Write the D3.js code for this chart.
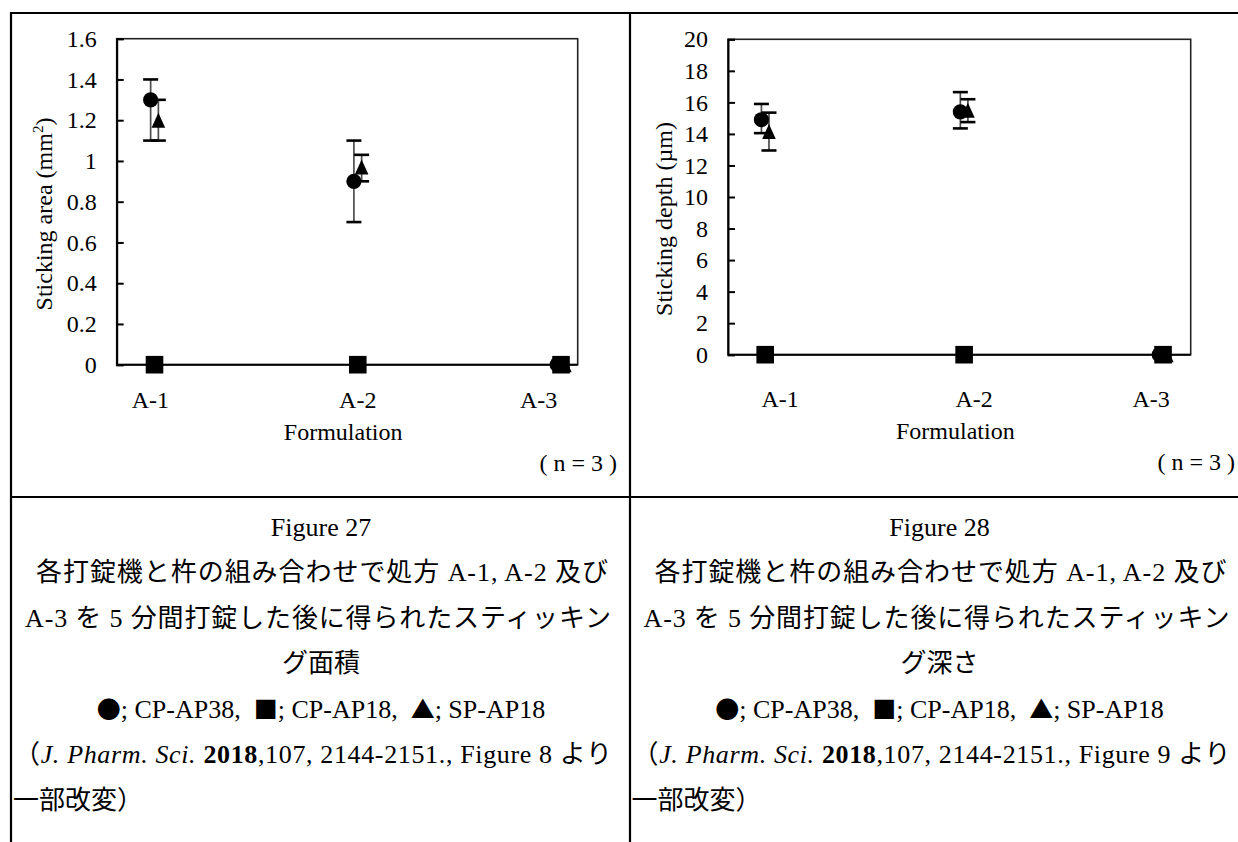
<!DOCTYPE html>
<html>
<head>
<meta charset="utf-8">
<script src="https://cdn.jsdelivr.net/npm/d3@7"></script>
<style>
  html, body { margin: 0; padding: 0; background: #fff; }
  svg { display: block; }
</style>
</head>
<body>
<svg id="fig" width="1238" height="842"></svg>
<script>
// ---- data -------------------------------------------------------------
const formulations = ["A-1", "A-2", "A-3"];
const seriesNames = ["CP-AP38", "CP-AP18", "SP-AP18"];

// Figure 27: sticking area (mm2)
const areaTicks = [0, 0.2, 0.4, 0.6, 0.8, 1, 1.2, 1.4, 1.6];
const areaCP38 = [1.3, 0.9, 0];
const areaCP38Low = [1.1, 0.7, 0];
const areaCP38High = [1.4, 1.1, 0];
const areaCP18 = [0, 0, 0];
const areaSP18 = [1.2, 0.97, 0];
const areaSP18Low = [1.1, 0.9, 0];
const areaSP18High = [1.3, 1.03, 0];

// Figure 28: sticking depth (µm)
const depthTicks = [0, 2, 4, 6, 8, 10, 12, 14, 16, 18, 20];
const depthCP38 = [14.9, 15.4, 0];
const depthCP38Low = [14.05, 14.35, 0];
const depthCP38High = [15.9, 16.65, 0];
const depthCP18 = [0, 0, 0];
const depthSP18 = [14.15, 15.5, 0];
const depthSP18Low = [12.95, 14.75, 0];
const depthSP18High = [15.35, 16.2, 0];

// ---- drawing helpers ------------------------------------------------------
const SERIF = "'Liberation Serif', 'Times New Roman', serif";
const MIXED = "'Liberation Serif', 'Noto Sans CJK JP', serif";
const CJK = "'Noto Sans CJK JP', sans-serif";

const svg = d3.select("#fig");
svg.append("rect").attr("width", 1238).attr("height", 842).attr("fill", "#fff");

// table frame
const frame = svg.append("g").attr("stroke", "#000").attr("stroke-width", 2.2);
frame.append("line").attr("x1", 10).attr("x2", 1238).attr("y1", 13).attr("y2", 13);
frame.append("line").attr("x1", 10).attr("x2", 1238).attr("y1", 497).attr("y2", 497);
frame.append("line").attr("x1", 11).attr("x2", 11).attr("y1", 12).attr("y2", 842);
frame.append("line").attr("x1", 630).attr("x2", 630).attr("y1", 12).attr("y2", 842);

function drawChart(cfg) {
  const g = svg.append("g");
  const x = d3.scaleLinear().domain(cfg.xDomain).range([cfg.left, cfg.right]);
  const y = d3.scaleLinear().domain([cfg.ticks[0], cfg.ticks[cfg.ticks.length - 1]])
    .range([cfg.bottom, cfg.top]);

  // plot frame
  g.append("rect")
    .attr("x", cfg.left).attr("y", cfg.top)
    .attr("width", cfg.right - cfg.left).attr("height", cfg.bottom - cfg.top)
    .attr("fill", "none").attr("stroke", "#222").attr("stroke-width", 1.6);

  // y axis with inside ticks
  const ya = g.append("g")
    .attr("transform", `translate(${cfg.left},0)`)
    .call(d3.axisLeft(y).tickValues(cfg.ticks).tickFormat(d => String(d))
      .tickSize(-7).tickPadding(20));
  ya.select(".domain").attr("stroke", "#000").attr("stroke-width", 2);
  ya.selectAll(".tick line").attr("stroke", "#000").attr("stroke-width", 2);
  ya.selectAll(".tick text").attr("font-family", SERIF).attr("font-size", 24).attr("fill", "#000");

  // x axis line
  g.append("line")
    .attr("x1", cfg.left).attr("x2", cfg.right)
    .attr("y1", y(0)).attr("y2", y(0))
    .attr("stroke", "#000").attr("stroke-width", 2);

  // category labels
  g.selectAll("text.cat").data(formulations).join("text")
    .attr("class", "cat")
    .attr("x", (d, i) => x(cfg.labelAt[i]))
    .attr("y", cfg.catBaseline)
    .attr("text-anchor", "middle")
    .attr("font-family", SERIF).attr("font-size", 24)
    .text(d => d);

  // axis titles
  g.append("text")
    .attr("x", (cfg.left + cfg.right) / 2 - 4).attr("y", cfg.catBaseline + 32)
    .attr("text-anchor", "middle")
    .attr("font-family", SERIF).attr("font-size", 24)
    .text("Formulation");

  const yt = g.append("text")
    .attr("transform", `translate(${cfg.yTitleX},${cfg.yTitleY}) rotate(-90)`)
    .attr("text-anchor", "middle")
    .attr("font-family", SERIF).attr("font-size", 24);
  cfg.yTitle(yt);

  g.append("text")
    .attr("x", cfg.nRight).attr("y", cfg.catBaseline + 63)
    .attr("text-anchor", "end")
    .attr("font-family", SERIF).attr("font-size", 24)
    .text("( n = 3 )");

  // series: circles, squares, triangles; small horizontal offset per series
  const off = [-0.019, 0, 0.019];
  const series = [
    { v: cfg.cp38, lo: cfg.cp38Low, hi: cfg.cp38High, shape: "circle", k: 0 },
    { v: cfg.cp18, lo: null, hi: null, shape: "square", k: 1 },
    { v: cfg.sp18, lo: cfg.sp18Low, hi: cfg.sp18High, shape: "triangle", k: 2 }
  ];

  // error bars first
  series.forEach(s => {
    if (!s.lo) return;
    const pts = s.v.map((v, i) => ({ i, v, lo: s.lo[i], hi: s.hi[i] })).filter(p => p.hi > p.lo);
    const eb = g.append("g");
    pts.forEach(p => {
      const cx = x(p.i + 1 + off[s.k]);
      eb.append("line").attr("x1", cx).attr("x2", cx)
        .attr("y1", y(p.lo)).attr("y2", y(p.hi))
        .attr("stroke", "#4d4d4d").attr("stroke-width", 1.7);
      [p.lo, p.hi].forEach(e => {
        eb.append("line").attr("x1", cx - 7.5).attr("x2", cx + 7.5)
          .attr("y1", y(e)).attr("y2", y(e))
          .attr("stroke", "#000").attr("stroke-width", 2.6);
      });
    });
  });

  const circleSym = d3.symbol().type(d3.symbolCircle).size(Math.PI * 7.6 * 7.6);
  series.forEach(s => {
    const mg = g.append("g").attr("fill", "#000");
    s.v.forEach((v, i) => {
      const cx = x(i + 1 + off[s.k]);
      const cy = y(v);
      if (s.shape === "circle") {
        mg.append("path").attr("d", circleSym()).attr("transform", `translate(${cx},${cy})`);
      } else if (s.shape === "square") {
        mg.append("rect").attr("x", cx - 8.8).attr("y", cy - 8.8)
          .attr("width", 17.6).attr("height", 17.6);
      } else {
        mg.append("path")
          .attr("d", `M${cx},${cy - 7.5}L${cx + 6.8},${cy + 7.5}L${cx - 6.8},${cy + 7.5}Z`);
      }
    });
  });
}

drawChart({
  left: 116.7, right: 577.7, top: 38.7, bottom: 364.7,
  xDomain: [0.814, 3.082], ticks: areaTicks,
  labelAt: [0.98, 2.0, 2.89], catBaseline: 408,
  cp38: areaCP38, cp38Low: areaCP38Low, cp38High: areaCP38High,
  cp18: areaCP18, sp18: areaSP18, sp18Low: areaSP18Low, sp18High: areaSP18High,
  yTitleX: 52, yTitleY: 214, nRight: 617,
  yTitle: t => {
    t.append("tspan").text("Sticking area (mm");
    t.append("tspan").attr("font-size", 15).attr("dy", -9).text("2");
    t.append("tspan").attr("dy", 9).text(")");
  }
});

drawChart({
  left: 728, right: 1190.7, top: 39.3, bottom: 354.7,
  xDomain: [0.813, 3.139], ticks: depthTicks,
  labelAt: [1.075, 2.05, 2.94], catBaseline: 407,
  cp38: depthCP38, cp38Low: depthCP38Low, cp38High: depthCP38High,
  cp18: depthCP18, sp18: depthSP18, sp18Low: depthSP18Low, sp18High: depthSP18High,
  yTitleX: 672, yTitleY: 219, nRight: 1235,
  yTitle: t => t.text("Sticking depth (µm)")
});

// ---- captions -----------------------------------------------------------
function caption(dx, figNo, line3, refFig) {
  const c = svg.append("g").attr("transform", `translate(${dx},0)`)
    .attr("font-family", MIXED).attr("font-size", 26).attr("fill", "#000");
  const mid = 321;
  c.append("text").attr("x", mid).attr("y", 536).attr("text-anchor", "middle")
    .text(`Figure ${figNo}`);
  c.append("text").attr("x", 36).attr("y", 581)
    .attr("textLength", 572).attr("lengthAdjust", "spacing")
    .text("各打錠機と杵の組み合わせで処方 A-1, A-2 及び");
  c.append("text").attr("x", 25).attr("y", 627)
    .attr("textLength", 586).attr("lengthAdjust", "spacing")
    .text("A-3 を 5 分間打錠した後に得られたスティッキン");
  c.append("text").attr("x", mid).attr("y", 672).attr("text-anchor", "middle")
    .text(line3);

  const lg = c.append("text").attr("x", mid).attr("y", 718).attr("text-anchor", "middle");
  const marks = ["●", "■", "▲"];
  seriesNames.forEach((name, i) => {
    lg.append("tspan").attr("font-family", CJK).attr("font-size", 24).text(marks[i]);
    lg.append("tspan").text(`; ${name}${i < seriesNames.length - 1 ? ",\u00a0\u00a0" : ""}`);
  });

  const ref = c.append("text").attr("x", 14).attr("y", 763)
    .attr("textLength", 598).attr("lengthAdjust", "spacing");
  ref.append("tspan").attr("font-family", CJK).text("（");
  ref.append("tspan").attr("font-style", "italic").text("J. Pharm. Sci.");
  ref.append("tspan").text(" ");
  ref.append("tspan").attr("font-weight", "bold").text("2018");
  ref.append("tspan").text(`,107, 2144-2151., Figure ${refFig} より`);

  c.append("text").attr("x", 13).attr("y", 809).text("一部改変）");
}

caption(0, 27, "グ面積", 8);
caption(618.5, 28, "グ深さ", 9);
</script>
</body>
</html>
